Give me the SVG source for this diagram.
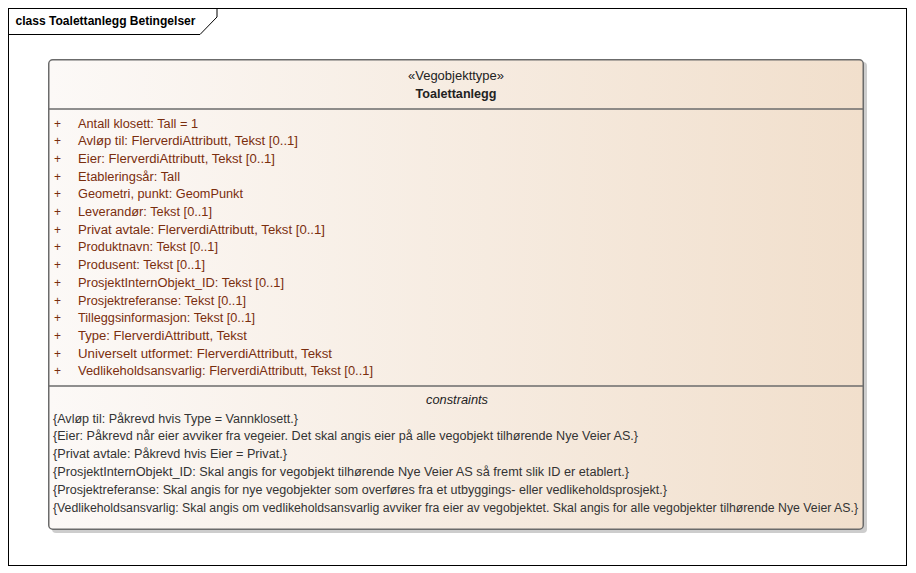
<svg xmlns="http://www.w3.org/2000/svg" width="916" height="573" viewBox="0 0 916 573">
<style>
text{font-family:"Liberation Sans",Arial,sans-serif;font-size:12px}
.attr{fill:#7a2e0e}
.con{fill:#333333}
.hd{fill:#222222;text-anchor:middle}
.sep{stroke:#6b6b6b;stroke-width:1.5}
</style>
<defs>
<linearGradient id="g" x1="0" y1="0" x2="1" y2="0">
<stop offset="0" stop-color="#fcf9f7"/>
<stop offset="1" stop-color="#f1dfcc"/>
</linearGradient>
</defs>
<rect x="0" y="0" width="916" height="573" fill="#ffffff"/>
<g id="frame">
<rect x="8.5" y="8.5" width="898" height="557" fill="#ffffff" stroke="#000000" stroke-width="1"/>
<path d="M8.5 34.5 H200 L217 17 V8.5" fill="none" stroke="#000000" stroke-width="1"/>
<text x="15.5" y="25" style="font-weight:bold;font-size:12px" fill="#000000" textLength="180" lengthAdjust="spacingAndGlyphs">class Toalettanlegg Betingelser</text>
</g>
<g id="Toalettanlegg">
<rect x="52" y="62" width="815" height="471" rx="4" fill="#b8b8b8" opacity="0.7"/>
<rect x="48.75" y="59.75" width="814.5" height="469.5" rx="4" fill="url(#g)" stroke="#6b6b6b" stroke-width="1.5"/>
<line class="sep" x1="49" y1="109" x2="863" y2="109"/>
<line class="sep" x1="49" y1="386" x2="863" y2="386"/>
<text class="hd" x="456" y="79.5" textLength="96" lengthAdjust="spacingAndGlyphs">«Vegobjekttype»</text>
<text class="hd" x="456" y="97.7" style="font-weight:bold" textLength="81" lengthAdjust="spacingAndGlyphs">Toalettanlegg</text>
<g class="attr">
<text x="54" y="127.5">+</text><text x="78" y="127.5" textLength="120" lengthAdjust="spacingAndGlyphs">Antall klosett: Tall = 1</text>
<text x="54" y="145.2">+</text><text x="78" y="145.2" textLength="220" lengthAdjust="spacingAndGlyphs">Avløp til: FlerverdiAttributt, Tekst [0..1]</text>
<text x="54" y="162.9">+</text><text x="78" y="162.9" textLength="197" lengthAdjust="spacingAndGlyphs">Eier: FlerverdiAttributt, Tekst [0..1]</text>
<text x="54" y="180.6">+</text><text x="78" y="180.6" textLength="102" lengthAdjust="spacingAndGlyphs">Etableringsår: Tall</text>
<text x="54" y="198.3">+</text><text x="78" y="198.3" textLength="165" lengthAdjust="spacingAndGlyphs">Geometri, punkt: GeomPunkt</text>
<text x="54" y="216">+</text><text x="78" y="216" textLength="134" lengthAdjust="spacingAndGlyphs">Leverandør: Tekst [0..1]</text>
<text x="54" y="233.7">+</text><text x="78" y="233.7" textLength="247" lengthAdjust="spacingAndGlyphs">Privat avtale: FlerverdiAttributt, Tekst [0..1]</text>
<text x="54" y="251.4">+</text><text x="78" y="251.4" textLength="140" lengthAdjust="spacingAndGlyphs">Produktnavn: Tekst [0..1]</text>
<text x="54" y="269.1">+</text><text x="78" y="269.1" textLength="127" lengthAdjust="spacingAndGlyphs">Produsent: Tekst [0..1]</text>
<text x="54" y="286.8">+</text><text x="78" y="286.8" textLength="206" lengthAdjust="spacingAndGlyphs">ProsjektInternObjekt_ID: Tekst [0..1]</text>
<text x="54" y="304.5">+</text><text x="78" y="304.5" textLength="168" lengthAdjust="spacingAndGlyphs">Prosjektreferanse: Tekst [0..1]</text>
<text x="54" y="322.2">+</text><text x="78" y="322.2" textLength="177" lengthAdjust="spacingAndGlyphs">Tilleggsinformasjon: Tekst [0..1]</text>
<text x="54" y="339.9">+</text><text x="78" y="339.9" textLength="169" lengthAdjust="spacingAndGlyphs">Type: FlerverdiAttributt, Tekst</text>
<text x="54" y="357.6">+</text><text x="78" y="357.6" textLength="254" lengthAdjust="spacingAndGlyphs">Universelt utformet: FlerverdiAttributt, Tekst</text>
<text x="54" y="375.3">+</text><text x="78" y="375.3" textLength="295" lengthAdjust="spacingAndGlyphs">Vedlikeholdsansvarlig: FlerverdiAttributt, Tekst [0..1]</text>
</g>
<text class="hd" x="457" y="404" style="font-style:italic" textLength="62" lengthAdjust="spacingAndGlyphs">constraints</text>
<g class="con">
<text x="53" y="422.5" textLength="245" lengthAdjust="spacingAndGlyphs">{Avløp til: Påkrevd hvis Type = Vannklosett.}</text>
<text x="53" y="440.3" textLength="585" lengthAdjust="spacingAndGlyphs">{Eier: Påkrevd når eier avviker fra vegeier. Det skal angis eier på alle vegobjekt tilhørende Nye Veier AS.}</text>
<text x="53" y="458.1" textLength="234" lengthAdjust="spacingAndGlyphs">{Privat avtale: Påkrevd hvis Eier = Privat.}</text>
<text x="53" y="475.9" textLength="576" lengthAdjust="spacingAndGlyphs">{ProsjektInternObjekt_ID: Skal angis for vegobjekt tilhørende Nye Veier AS så fremt slik ID er etablert.}</text>
<text x="53" y="493.7" textLength="614" lengthAdjust="spacingAndGlyphs">{Prosjektreferanse: Skal angis for nye vegobjekter som overføres fra et utbyggings- eller vedlikeholdsprosjekt.}</text>
<text x="53" y="511.5" textLength="805" lengthAdjust="spacingAndGlyphs">{Vedlikeholdsansvarlig: Skal angis om vedlikeholdsansvarlig avviker fra eier av vegobjektet. Skal angis for alle vegobjekter tilhørende Nye Veier AS.}</text>
</g>
</g>
<g id="connectors"/>
</svg>
